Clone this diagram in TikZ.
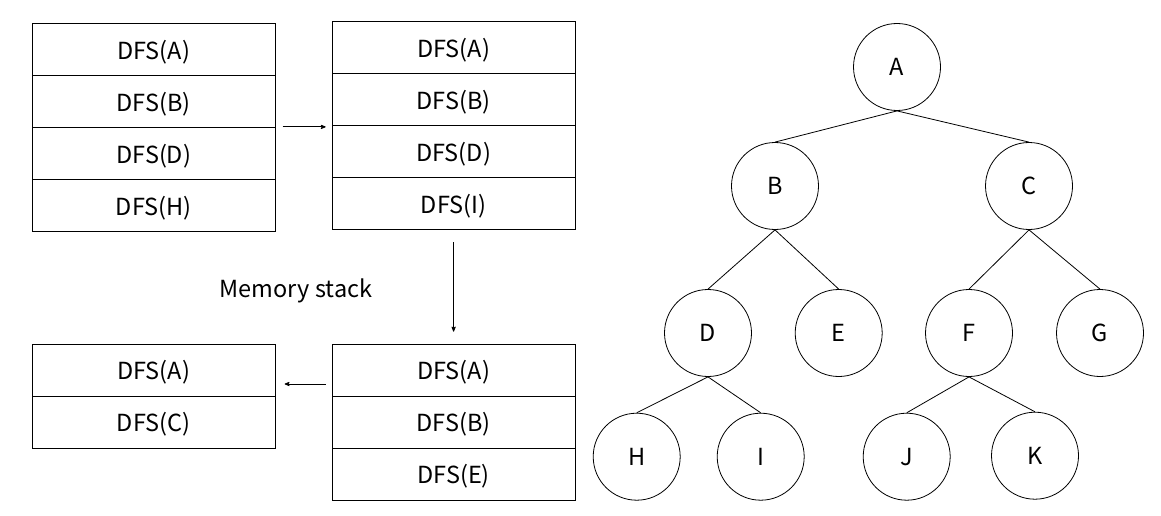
\documentclass[tikz,border=0pt]{standalone}
\usepackage{fontspec}
\setmainfont{Noto Sans CJK SC}
\usetikzlibrary{arrows}

\begin{document}
\begin{tikzpicture}[>=stealth', x=1pt, y=-1pt, thick, node distance=52pt]

  \tikzstyle{frame}=[draw, minimum width=243pt, minimum height=52pt, inner sep=0pt, text height=19.6pt, text depth=0pt, font=\fontsize{23.5}{28}\selectfont]
  \tikzstyle{vertex}=[circle, draw, minimum size=87pt, inner sep=0pt, font=\fontsize{23.5}{28}\selectfont]

  \useasboundingbox (0,0) rectangle (1161,516);

  % stacks
  \node[frame] (s1a) at (153.7,49.3) {DFS(A)};
  \node[frame] (s1b) [below of=s1a] {DFS(B)};
  \node[frame] (s1c) [below of=s1b] {DFS(D)};
  \node[frame] (s1d) [below of=s1c] {DFS(H)};

  \node[frame] (s2a) at (453.6,47.7) {DFS(A)};
  \node[frame] (s2b) [below of=s2a] {DFS(B)};
  \node[frame] (s2c) [below of=s2b] {DFS(D)};
  \node[frame] (s2d) [below of=s2c] {DFS(I)};

  \node[frame] (s3a) at (453.6,370) {DFS(A)};
  \node[frame] (s3b) [below of=s3a] {DFS(B)};
  \node[frame] (s3c) [below of=s3b] {DFS(E)};

  \node[frame] (s4a) at (153.7,370) {DFS(A)};
  \node[frame] (s4b) [below of=s4a] {DFS(C)};

  \node[anchor=base, font=\fontsize{23.5}{28}\selectfont] (memory) at (296,297.5) {Memory stack};

  \draw[->, shorten <=7pt, shorten >=6pt] (s1c.north east) -- (s1c.north east -| s2c.west);
  \draw[->, shorten <=12pt, shorten >=12pt] (s2d.south) -- (s3a.north);
  \draw[->, shorten <=6pt, shorten >=9pt] ([yshift=-14pt]s3a.west) -- ([yshift=-14pt]s4a.east);

  % tree
  \node[vertex] (A) at (897,67) {A};
  \node[vertex] (B) at (775,186) {B};
  \node[vertex] (C) at (1029,186) {C};
  \node[vertex] (D) at (708,333) {D};
  \node[vertex] (E) at (838.7,333) {E};
  \node[vertex] (F) at (969,333) {F};
  \node[vertex] (G) at (1100,333) {G};
  \node[vertex] (H) at (636.7,456.7) {H};
  \node[vertex] (I) at (760.7,456.7) {I};
  \node[vertex] (J) at (906.7,456.7) {J};
  \node[vertex] (K) at (1035,455.7) {K};

  \foreach \p/\c in {A/B, A/C, B/D, B/E, C/F, C/G, D/H, D/I, F/J, F/K}
    \draw (\p.south) -- (\c.north);

\end{tikzpicture}
\end{document}
